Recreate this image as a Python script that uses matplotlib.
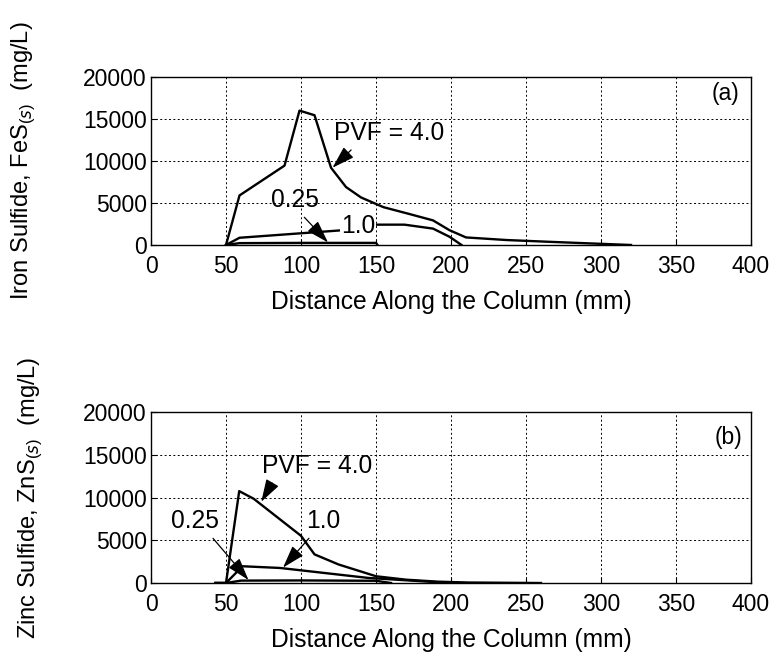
import matplotlib
matplotlib.use("Agg")
import matplotlib.pyplot as plt

plt.rcParams['font.family'] = ['Liberation Sans', 'DejaVu Sans']
plt.rcParams['mathtext.fontset'] = 'custom'
plt.rcParams['mathtext.rm'] = 'Liberation Sans'

# (a) iron sulfide, FeS(s), mg/L
fe_x_40 = [50, 59, 89, 99, 109, 120, 130, 140, 155, 172, 188, 199, 210, 237, 264, 291, 320]
fe_y_40 = [0, 5900, 9450, 16000, 15450, 9200, 6900, 5660, 4500, 3700, 2930, 1760, 900, 590, 390, 200, 0]
fe_x_10 = [50, 59, 128, 150, 169, 188, 199, 207]
fe_y_10 = [0, 860, 1760, 2420, 2420, 1950, 980, 0]
fe_x_025 = [50, 59, 100, 150, 151]
fe_y_025 = [0, 220, 250, 250, 0]

# (b) zinc sulfide, ZnS(s), mg/L
zn_x_40 = [43, 50, 58.8, 68.5, 100, 109, 125, 150, 170, 191, 210, 260]
zn_y_40 = [0, 0, 10750, 9850, 5520, 3350, 2170, 790, 390, 160, 60, 0]
zn_x_10 = [43, 50, 61, 86, 145, 190, 210]
zn_y_10 = [0, 0, 1960, 1760, 590, 100, 0]
zn_x_025 = [43, 50, 60, 100, 150, 160]
zn_y_025 = [0, 0, 280, 300, 260, 0]

xticks = [0, 50, 100, 150, 200, 250, 300, 350, 400]
yticks = [0, 5000, 10000, 15000, 20000]

fig = plt.figure(figsize=(7.76, 6.65), dpi=100)
ax1 = fig.add_axes([0.1946, 0.6316, 0.7732, 0.2526])
ax2 = fig.add_axes([0.1946, 0.1233, 0.7732, 0.2571])

fs = 16.5
lfs = 17.7
yfs = 17
arrow = dict(arrowstyle='-|>,head_length=0.7,head_width=0.22', color='black',
             lw=0.9, mutation_scale=20, shrinkA=2, shrinkB=0)

for ax in (ax1, ax2):
    ax.set_xlim(0, 400)
    ax.set_ylim(0, 20000)
    ax.set_xticks(xticks)
    ax.set_yticks(yticks)
    ax.grid(True, linestyle=(0, (2, 2.5)), color='black', linewidth=0.7)
    ax.tick_params(direction='in', labelsize=fs, length=4)
    ax.tick_params(axis='y', pad=3)
    ax.tick_params(axis='x', pad=7)
    ax.set_xlabel('Distance Along the Column (mm)', fontsize=lfs, labelpad=9)
    for s in ax.spines.values():
        s.set_linewidth(1.0)

# panel (a)
ax1.plot(fe_x_40, fe_y_40, color='black', lw=1.7)
ax1.plot(fe_x_10, fe_y_10, color='black', lw=1.7)
ax1.plot(fe_x_025, fe_y_025, color='black', lw=1.7)
ax1.set_ylabel('Iron Sulfide, FeS$_{(s)}$  (mg/L)', fontsize=yfs)
ax1.yaxis.set_label_coords(-0.19, 0.5)
ax1.annotate('PVF = 4.0', xy=(121, 9200), xytext=(122, 13300), fontsize=lfs,
             va='center', ha='left', arrowprops=dict(arrow, relpos=(0.2, 0)))
ax1.annotate('0.25', xy=(118, 300), xytext=(96, 5300), fontsize=lfs,
             va='center', ha='center', arrowprops=dict(arrow, relpos=(0.6, 0)))
ax1.text(138, 2300, '1.0', fontsize=lfs, ha='center', va='center',
         bbox=dict(facecolor='white', edgecolor='none', pad=0.5))
ax1.text(383, 18000, '(a)', fontsize=fs, ha='center', va='center')

# panel (b)
ax2.plot(zn_x_40, zn_y_40, color='black', lw=1.7)
ax2.plot(zn_x_10, zn_y_10, color='black', lw=1.7)
ax2.plot(zn_x_025, zn_y_025, color='black', lw=1.7)
ax2.set_ylabel('Zinc Sulfide, ZnS$_{(s)}$  (mg/L)', fontsize=yfs)
ax2.yaxis.set_label_coords(-0.178, 0.5)
ax2.annotate('PVF = 4.0', xy=(73.5, 9500), xytext=(74, 13700), fontsize=lfs,
             va='center', ha='left', arrowprops=dict(arrow, relpos=(0.12, 0)))
ax2.annotate('0.25', xy=(65, 350), xytext=(29, 7200), fontsize=lfs,
             va='center', ha='center', arrowprops=dict(arrow, relpos=(0.8, 0)))
ax2.annotate('1.0', xy=(88, 1800), xytext=(115, 7200), fontsize=lfs,
             va='center', ha='center', arrowprops=dict(arrow, relpos=(0.2, 0)))
ax2.text(385, 17000, '(b)', fontsize=fs, ha='center', va='center')

fig.savefig('out.png', dpi=100)
